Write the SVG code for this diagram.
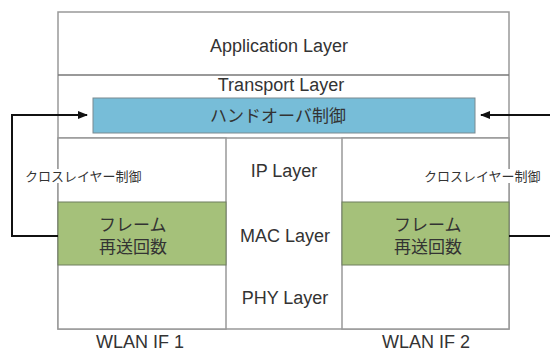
<svg xmlns="http://www.w3.org/2000/svg" width="550" height="351" viewBox="0 0 550 351">
<style>
.box{fill:#fff;stroke:#999;stroke-width:1.5}
.t{font-family:"Liberation Sans","Noto Sans CJK JP",sans-serif;fill:#333}
.c{text-anchor:middle}
.L{font-size:18px}
.J{font-size:17px}
.s{font-size:13px}
.con{fill:none;stroke:#111;stroke-width:2}
</style>
<defs>
<marker id="ah" viewBox="0 0 10 10" refX="9" refY="5" markerWidth="5" markerHeight="5" orient="auto"><path d="M0,1 L10,5 L0,9 z" fill="#111"/></marker>
</defs>
<rect width="550" height="351" fill="#fff"/>
<g id="stack">
<rect class="box" x="58" y="12" width="451" height="317"/>
<line x1="58" y1="75" x2="509" y2="75" stroke="#777" stroke-width="1.5"/>
<line x1="58" y1="138" x2="509" y2="138" stroke="#999" stroke-width="1.5"/>
<text class="t c L" x="279" y="52">Application Layer</text>
<text class="t c L" x="281" y="91">Transport Layer</text>
<text class="t c L" x="284" y="177">IP Layer</text>
<text class="t c L" x="285" y="242">MAC Layer</text>
<text class="t c L" x="285" y="304">PHY Layer</text>
</g>
<g id="handover">
<rect x="93" y="98" width="382" height="35" fill="#77bdd8" stroke="#7a8a90" stroke-width="1"/>
<text class="t c J" x="278" y="122">ハンドオーバ制御</text>
</g>
<g id="if1">
<rect class="box" x="58" y="138" width="168" height="191"/>
<rect x="58" y="202" width="168" height="63" fill="#a5c17a" stroke="#6f7f5f" stroke-width="1"/>
<text class="t J" x="99" y="231">フレーム</text>
<text class="t J" x="99" y="253">再送回数</text>
<text class="t c L" x="140" y="348">WLAN IF 1</text>
</g>
<g id="if2">
<rect class="box" x="342" y="138" width="167" height="191"/>
<rect x="342" y="202" width="167" height="63" fill="#a5c17a" stroke="#6f7f5f" stroke-width="1"/>
<text class="t J" x="394" y="231">フレーム</text>
<text class="t J" x="394" y="253">再送回数</text>
<text class="t c L" x="426" y="348">WLAN IF 2</text>
</g>
<g id="connectors">
<polyline class="con" points="58,236 12,236 12,115 87,115" marker-end="url(#ah)"/>
<polyline class="con" points="509,236 550,236"/>
<line class="con" x1="550" y1="115" x2="481" y2="115" marker-end="url(#ah)"/>
<rect x="24" y="169" width="118" height="14" fill="#fff"/>
<text class="t s" x="25" y="181">クロスレイヤー制御</text>
<rect x="423" y="169" width="118" height="14" fill="#fff"/>
<text class="t s" x="424" y="181">クロスレイヤー制御</text>
</g>
</svg>
